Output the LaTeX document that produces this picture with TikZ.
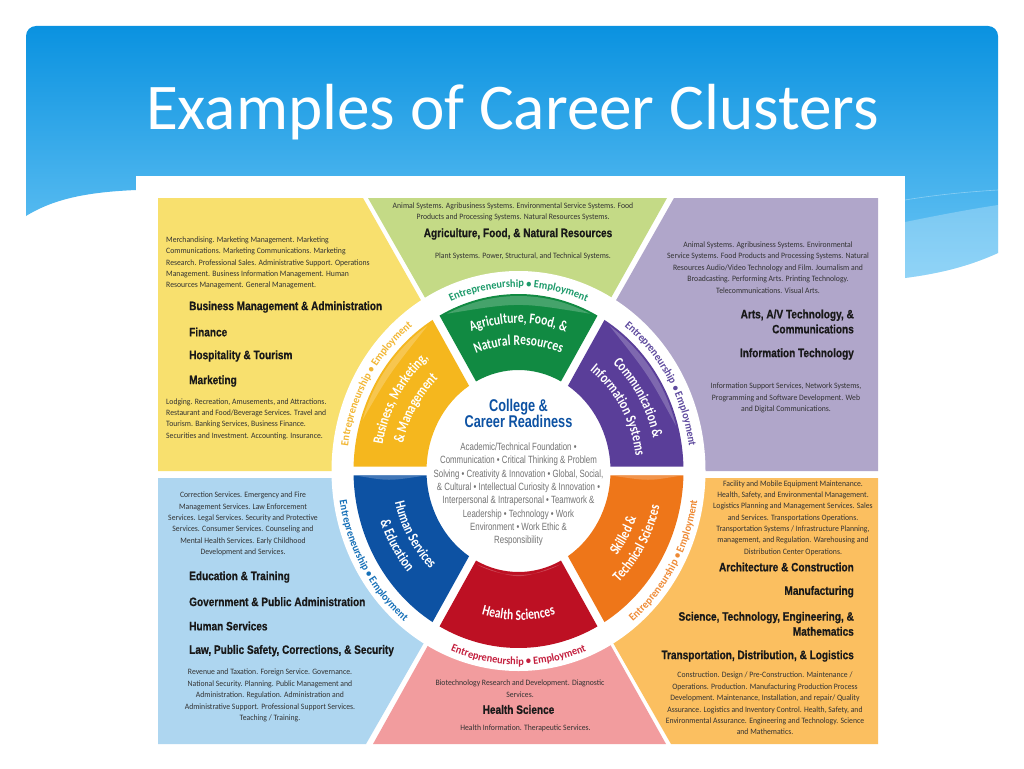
\documentclass[tikz,border=0pt]{standalone}
\usepackage{fontspec}
\usepackage{tikz}
\usetikzlibrary{decorations.text}
\setmainfont{Carlito}
\newfontfamily\smallfont[FakeStretch=0.94]{Carlito}
\newfontfamily\wedgefont[FakeStretch=0.78]{Carlito}
\newfontfamily\headfont[FakeStretch=0.825, BoldFeatures={FakeBold=0.6}]{Liberation Sans}
\newfontfamily\corefont[FakeStretch=0.75]{Liberation Sans}

\definecolor{headtop}{HTML}{0A92E0}
\definecolor{headbottom}{HTML}{6CC6F5}
\definecolor{paneyellow}{HTML}{F8E06E}
\definecolor{panegreen}{HTML}{C4DA86}
\definecolor{panepurple}{HTML}{B0A6CA}
\definecolor{paneblue}{HTML}{AED6F0}
\definecolor{panepink}{HTML}{F29C9E}
\definecolor{paneorange}{HTML}{FBBF60}
\definecolor{wedgegreen}{HTML}{118A42}
\definecolor{wedgeyellow}{HTML}{F5B71E}
\definecolor{wedgepurple}{HTML}{5A3E99}
\definecolor{wedgeblue}{HTML}{0D52A3}
\definecolor{wedgered}{HTML}{BD1023}
\definecolor{wedgeorange}{HTML}{EE7619}
\definecolor{ringgreen}{HTML}{1C9A6A}
\definecolor{ringyellow}{HTML}{F2B632}
\definecolor{ringpurple}{HTML}{5E4A9E}
\definecolor{ringblue}{HTML}{1670B8}
\definecolor{ringred}{HTML}{C41F3E}
\definecolor{ringorange}{HTML}{EE8A35}

\tikzset{
  smalltext/.style={font=\smallfont\fontsize{8.2}{11.35}\selectfont, text=black!80, align=center, inner sep=0pt},
  headtext/.style={font=\headfont\bfseries\fontsize{12.2}{15}\selectfont, text=black!90, inner sep=0pt},
  coretext/.style={font=\corefont\fontsize{10.5}{13.3}\selectfont, text=black!55, align=center, inner sep=0pt},
  sheen/.style={fill=white, opacity=.22},
}

% wedge of the wheel: colour, first angle, last angle
\newcommand{\wheelwedge}[3]{
  \fill[#1] (#2+1.4:165 and 177) arc[start angle=#2+1.4, end angle=#3-1.4, x radius=165, y radius=177]
    -- (#3-2.5:92 and 101) arc[start angle=#3-2.5, end angle=#2+2.5, x radius=92, y radius=101] -- cycle;
}
% light band on an arc: first angle, last angle, rx, ry, middle angle, rx and ry of its inner side
\newcommand{\wedgesheen}[7]{
  \path[sheen] (#1:#3 and #4) arc[start angle=#1, end angle=#2, x radius=#3, y radius=#4]
    .. controls (#5:#6 and #7) .. (#1:#3 and #4);
}
% curved line of text: colour, font, rx, ry, first angle, last angle, text
\newcommand{\arctext}[7]{
  \path[decorate, decoration={text along path, text align=center, text color=#1, text={|#2|#7}}]
    (#5:#3 and #4) arc[start angle=#5, end angle=#6, x radius=#3, y radius=#4];
}
\newcommand{\ringfont}{\smallfont\bfseries\fontsize{11}{11}\selectfont}
\newcommand{\labelfont}{\wedgefont\bfseries\fontsize{14.8}{15}\selectfont}

\begin{document}
\begin{tikzpicture}[x=1pt, y=-1pt]
\useasboundingbox (0,0) rectangle (1024,768);
\fill[white] (0,0) rectangle (1024,768);

% slide head
\shade[top color=headtop, bottom color=headbottom]
  (26,216) -- (26,36) arc[start angle=180, end angle=270, radius=10] -- (988,26)
  arc[start angle=270, end angle=360, radius=10] -- (998,253)
  .. controls (965,268) and (935,274) .. (905,278) -- (136,190)
  .. controls (90,192) and (55,198) .. (26,216) -- cycle;
\fill[white, opacity=.25] (905,222) .. controls (935,216) and (965,210) .. (998,205) -- (998,253)
  .. controls (965,268) and (935,274) .. (905,278) -- cycle;
\draw[white, opacity=.35, line width=.6pt] (905,200) .. controls (935,195) and (965,192) .. (998,190);
\node[font=\fontsize{65.2}{66}\selectfont, text=white, inner sep=0pt, anchor=base] (title) at (512.5,129) {Examples of Career Clusters};

% white sheet
\fill[white] (136,176) rectangle (905,768);

% panes
\fill[paneyellow] (158,198) -- (363,198) -- (516,468) -- (516,471) -- (158,471) -- cycle;
\fill[panegreen] (368,198) -- (667,198) -- (519,462) -- cycle;
\fill[panepurple] (674,198) -- (878,198) -- (878,471) -- (521,471) -- (521,468) -- cycle;
\fill[paneblue] (158,478) -- (516,478) -- (516,482) -- (366,744) -- (158,744) -- cycle;
\fill[panepink] (519,482) -- (666,744) -- (373,744) -- cycle;
\fill[paneorange] (521,478) -- (878,478) -- (878,744) -- (671,744) -- (521,482) -- cycle;

% wheel
\begin{scope}[shift={(518.5,471)}]
\fill[white] (0,0) ellipse[x radius=187, y radius=200];
\wheelwedge{wedgegreen}{240}{300}
\wheelwedge{wedgepurple}{300}{360}
\wheelwedge{wedgeorange}{0}{60}
\wheelwedge{wedgered}{60}{120}
\wheelwedge{wedgeblue}{120}{180}
\wheelwedge{wedgeyellow}{180}{240}

% light bands
\wedgesheen{244}{296}{163}{175}{270}{158}{169}
\wedgesheen{304}{345}{163}{175}{325}{158}{169}
\wedgesheen{197}{236}{163}{175}{215}{158}{169}
\wedgesheen{64}{116}{95}{104}{90}{100}{109}
\path[sheen] (-160,5) .. controls (-130,10) .. (-96,5) -- cycle;
\path[sheen] (96,5) .. controls (130,10) .. (160,5) -- cycle;

% ring text
\arctext{ringgreen}{\ringfont}{172}{184}{240}{300}{Entrepreneurship • Employment}
\arctext{ringpurple}{\ringfont}{172}{184}{300}{360}{Entrepreneurship • Employment}
\arctext{ringyellow}{\ringfont}{172}{184}{180}{240}{Entrepreneurship • Employment}
\arctext{ringblue}{\ringfont}{181}{194}{180}{120}{Entrepreneurship • Employment}
\arctext{ringred}{\ringfont}{181}{194}{120}{60}{Entrepreneurship • Employment}
\arctext{ringorange}{\ringfont}{181}{194}{60}{0}{Entrepreneurship • Employment}

% wedge text
\arctext{white}{\labelfont}{138}{148}{240}{300}{Agriculture, Food, {\&}}
\arctext{white}{\labelfont}{118}{126}{235}{305}{Natural Resources}
\arctext{white}{\labelfont}{138}{148}{300}{360}{Communication {\&}}
\arctext{white}{\labelfont}{118}{126}{300}{360}{Information Systems}
\arctext{white}{\labelfont}{138}{148}{180}{240}{Business, Marketing,}
\arctext{white}{\labelfont}{118}{126}{180}{240}{{\&} Management}
\arctext{white}{\labelfont}{127}{136}{180}{120}{Human Services}
\arctext{white}{\labelfont}{146}{156}{180}{120}{{\&} Education}
\arctext{white}{\labelfont}{139}{149}{120}{60}{Health Sciences}
\arctext{white}{\labelfont}{126}{135}{60}{0}{Skilled {\&}}
\arctext{white}{\labelfont}{145}{155}{60}{0}{Technical Sciences}
\end{scope}

% wheel centre
\node[font=\corefont\bfseries\fontsize{17}{16}\selectfont, text=wedgeblue, align=center, inner sep=0pt] (core) at (518.5,413.5) {College \&\\Career Readiness};
\node[coretext] (coreinfo) at (518.5,494.5) {Academic/Technical Foundation •\\Communication • Critical Thinking \& Problem\\Solving • Creativity \& Innovation • Global, Social,\\\& Cultural • Intellectual Curiosity \& Innovation •\\Interpersonal \& Intrapersonal • Teamwork \&\\Leadership • Technology • Work\\Environment • Work Ethic \&\\Responsibility};

% yellow pane
\node[smalltext, align=left, anchor=west] (bizinfoa) at (166,263) {Merchandising. Marketing Management. Marketing\\Communications. Marketing Communications. Marketing\\Research. Professional Sales. Administrative Support. Operations\\Management. Business Information Management. Human\\Resources Management. General Management.};
\node[headtext, anchor=west] (bizmgmt) at (189,307) {Business Management \& Administration};
\node[headtext, anchor=west] (finance) at (189,332) {Finance};
\node[headtext, anchor=west] (hospitality) at (189,356) {Hospitality \& Tourism};
\node[headtext, anchor=west] (marketing) at (189,381) {Marketing};
\node[smalltext, align=left, anchor=west] (bizinfob) at (166,419) {Lodging. Recreation, Amusements, and Attractions.\\Restaurant and Food/Beverage Services. Travel and\\Tourism.  Banking Services, Business Finance.\\Securities and Investment. Accounting. Insurance.};

% green pane
\node[smalltext] (agrinfoa) at (513,212) {Animal Systems. Agribusiness Systems. Environmental Service Systems. Food\\Products and Processing Systems.  Natural Resources Systems.};
\node[headtext] (agriculture) at (518,234) {Agriculture, Food, \& Natural Resources};
\node[smalltext] (agrinfob) at (523,256) {Plant Systems. Power, Structural, and Technical Systems.};

% purple pane
\node[smalltext] (artinfoa) at (768,267.5) {Animal Systems. Agribusiness Systems. Environmental\\Service Systems. Food Products and Processing Systems.  Natural\\Resources Audio/Video Technology and Film. Journalism and\\Broadcasting. Performing Arts. Printing Technology.\\Telecommunications. Visual Arts.};
\node[headtext, align=right, anchor=east] (arts) at (854,321.5) {Arts, A/V Technology, \&\\Communications};
\node[headtext, anchor=east] (infotech) at (854,354) {Information Technology};
\node[smalltext] (artinfob) at (786,398) {Information Support Services, Network Systems,\\Programming and Software Development. Web\\and Digital Communications.};

% blue pane
\node[smalltext] (hsrinfoa) at (243,524) {Correction Services. Emergency and Fire\\Management Services. Law Enforcement\\Services. Legal Services. Security and Protective\\Services. Consumer Services. Counseling and\\Mental Health Services. Early Childhood\\Development and Services.};
\node[headtext, anchor=west] (education) at (189,577) {Education \& Training};
\node[headtext, anchor=west] (government) at (189,601.7) {Government \& Public Administration};
\node[headtext, anchor=west] (humanserv) at (189,626) {Human Services};
\node[headtext, anchor=west] (law) at (189,650.7) {Law, Public Safety, Corrections, \& Security};
\node[smalltext] (hsrinfob) at (270,695.5) {Revenue and Taxation. Foreign Service. Governance.\\National Security. Planning. Public Management and\\Administration. Regulation. Administration and\\Administrative Support. Professional Support Services.\\Teaching / Training.};

% pink pane
\node[smalltext] (medinfoa) at (520,688.5) {Biotechnology Research and Development. Diagnostic\\Services.};
\node[headtext] (healthsci) at (518.5,709.5) {Health Science};
\node[smalltext] (medinfob) at (525.5,728) {Health Information. Therapeutic Services.};

% orange pane
\node[smalltext] (sktinfoa) at (793,518) {Facility and Mobile Equipment Maintenance.\\Health, Safety, and Environmental Management.\\Logistics Planning and Management Services. Sales\\and Services. Transportations Operations.\\Transportation Systems / Infrastructure Planning,\\management, and Regulation. Warehousing and\\Distribution Center Operations.};
\node[headtext, anchor=east] (architecture) at (854,567) {Architecture \& Construction};
\node[headtext, anchor=east] (manufacturing) at (854,591.7) {Manufacturing};
\node[headtext, align=right, anchor=east] (stem) at (854,623.8) {Science, Technology, Engineering, \&\\Mathematics};
\node[headtext, anchor=east] (transport) at (854,656) {Transportation, Distribution, \& Logistics};
\node[smalltext] (sktinfob) at (765,703.5) {Construction. Design /  Pre-Construction. Maintenance /\\Operations. Production. Manufacturing Production Process\\Development. Maintenance, Installation, and repair/ Quality\\Assurance. Logistics and Inventory Control. Health, Safety, and\\Environmental Assurance. Engineering and Technology. Science\\and Mathematics.};

\end{tikzpicture}
\end{document}
